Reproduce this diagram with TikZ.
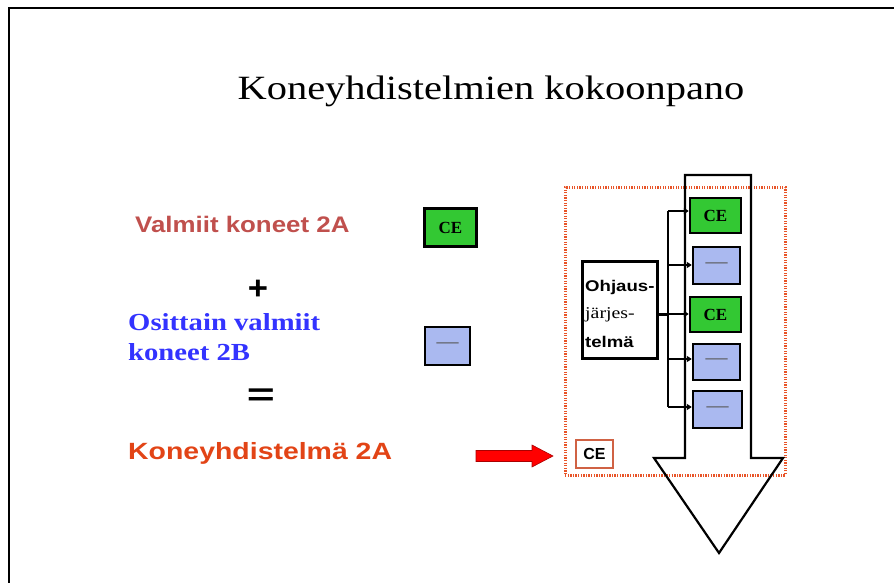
\documentclass[tikz,border=0pt]{standalone}
\usepackage{fontspec}
\usepackage{graphicx}
\setmainfont{Liberation Serif}
\newfontfamily\arial{Liberation Sans}
\usetikzlibrary{arrows.meta}
\definecolor{valred}{RGB}{192,80,77}
\definecolor{osblue}{RGB}{51,51,255}
\definecolor{koorange}{RGB}{226,68,22}
\definecolor{cegreen}{RGB}{51,200,51}
\definecolor{pblue}{RGB}{170,185,240}
\definecolor{dotred}{RGB}{232,84,40}
\definecolor{smallred}{RGB}{208,98,68}
\definecolor{darkarrow}{RGB}{170,0,0}
\tikzset{
  cebox/.style={draw=black, line width=2.4pt, fill=cegreen, inner sep=0pt, font=\fontsize{17}{17}\selectfont\bfseries},
  pbox/.style={draw=black, line width=2.4pt, fill=pblue, inner sep=0pt, font=\fontsize{22}{22}\selectfont\color{black!65}},
  bus/.style={line width=2.8pt},
  busarr/.style={line width=2.8pt, -{Triangle[length=5pt,width=6pt]}},
  ohjtext/.style={anchor=west, inner sep=0pt},
}
\begin{document}
\begin{tikzpicture}[x=1pt,y=-1pt]
\useasboundingbox (0,0) rectangle (894,583);
\draw[line width=2.4pt] (9,583) -- (9,8) -- (894,8);

% title
\node (title) at (491,91) {\fontsize{34}{34}\selectfont\scalebox{1.19}[1]{Koneyhdistelmien kokoonpano}};

% left texts
\node[anchor=west, text=valred, font=\arial\bfseries\fontsize{22.5}{22.5}\selectfont, inner sep=0pt] (valmiit) at (135,224) {\scalebox{1.15}[1]{Valmiit koneet 2A}};
\node[font=\arial\bfseries\fontsize{33}{33}\selectfont, inner sep=0pt] (plus) at (258,290) {\scalebox{1.05}[1]{+}};
\node[anchor=west, text=osblue, font=\bfseries\fontsize{24.5}{30}\selectfont, align=left, inner sep=0pt] (osittain) at (128,337) {\scalebox{1.17}[1]{Osittain valmiit}\\\scalebox{1.17}[1]{koneet 2B}};
\node[font=\arial\bfseries\fontsize{32}{32}\selectfont, inner sep=0pt] (eq) at (261,397) {\scalebox{1.5}[1]{=}};
\node[anchor=west, text=koorange, font=\arial\bfseries\fontsize{23.5}{23.5}\selectfont, inner sep=0pt] (kone) at (128,453) {\scalebox{1.21}[1]{Koneyhdistelmä 2A}};

% legend boxes
\node[cebox, minimum width=52, minimum height=38] (ceL) at (450.5,227.5) {CE};
\node[pbox, minimum width=45, minimum height=38] (pL) at (447.5,346) {---};

% group dotted frame
\node[draw=dotred, line width=3pt, dash pattern=on 1.3pt off 1.3pt, minimum width=220, minimum height=288, inner sep=0pt] (grp) at (675,331) {};

% big arrow
\draw[line width=2.2pt, line join=miter] (685,458) -- (685,175) -- (751,175) -- (751,458) -- (783,458) -- (719,553) -- (654,458) -- cycle;

% inner boxes
\node[cebox, minimum width=51, minimum height=35] (ce1) at (715.5,215.5) {CE};
\node[pbox, minimum width=47, minimum height=37] (p1) at (716.5,265.5) {---};
\node[cebox, minimum width=51, minimum height=35] (ce2) at (715.5,314.5) {CE};
\node[pbox, minimum width=47, minimum height=36] (p2) at (716.5,362) {---};
\node[pbox, minimum width=49, minimum height=37] (p3) at (717.5,409.5) {---};

% control system
\node[draw=black, line width=3pt, minimum width=75, minimum height=97, inner sep=0pt] (ohj) at (619.5,309.5) {};
\node[ohjtext, font=\arial\bfseries\fontsize{15.5}{15.5}\selectfont] (o1) at (585,287) {\scalebox{1.2}[1]{Ohjaus-}};
\node[ohjtext, font=\fontsize{16.5}{16.5}\selectfont] (o2) at (585,315) {\scalebox{1.2}[1]{järjes-}};
\node[ohjtext, font=\arial\bfseries\fontsize{15.5}{15.5}\selectfont] (o3) at (585,342) {\scalebox{1.2}[1]{telmä}};

\coordinate (busT) at (668,211);
\coordinate (busB) at (668,407);
\draw[bus] (busT) -- (busB);
\draw[bus] (ohj.east |- ce2) -- (busT |- ce2);
\draw[busarr] (busT) -- (ce1.west |- busT);
\draw[busarr] (668,265) -- (p1.west |- 0,265);
\draw[busarr] (668,314) -- (ce2.west |- 0,314);
\draw[busarr] (668,359) -- (p2.west |- 0,359);
\draw[busarr] (busB) -- (p3.west |- busB);

% small CE
\node[draw=smallred, line width=2.2pt, fill=white, minimum width=37, minimum height=28, inner sep=0pt, font=\arial\bfseries\fontsize{16}{16}\selectfont] (ceS) at (594.5,454) {CE};

% red arrow
\coordinate (arrS) at (476,456);
\fill[red, draw=darkarrow, line width=0.6pt] (arrS) ++(0,-5.5) -- (532,450.5) -- (532,445) -- (553,456) -- (532,467) -- (532,461.5) -- (476,461.5) -- cycle;
\end{tikzpicture}
\end{document}
